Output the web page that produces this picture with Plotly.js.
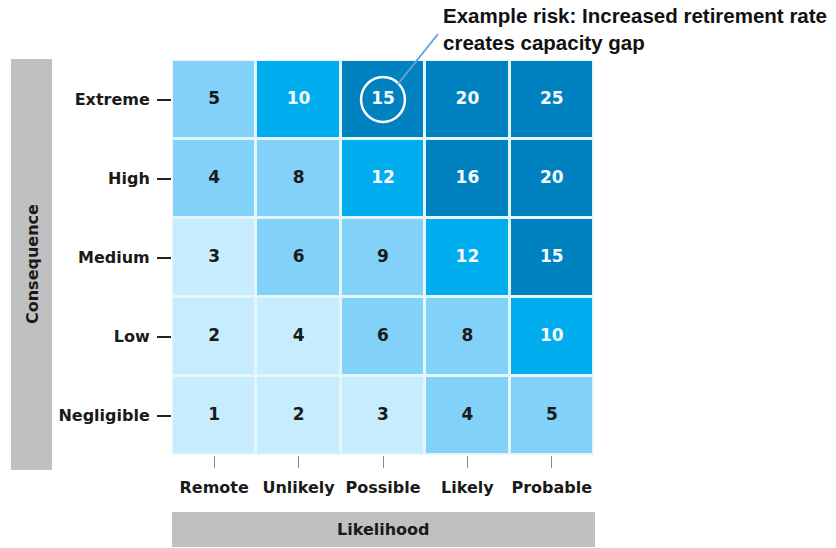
<!DOCTYPE html>
<html>
<head>
<meta charset="utf-8">
<script src="https://cdn.plot.ly/plotly-3.0.1.min.js"></script>
<style>html,body{margin:0;padding:0;background:#fff;}#chart{width:836px;height:548px;}</style>
</head>
<body>
<div id="chart"></div>
<script>
// ---- data ----
const likelihood = ['Remote', 'Unlikely', 'Possible', 'Likely', 'Probable'];
const consequence = ['Extreme', 'High', 'Medium', 'Low', 'Negligible']; // top to bottom
const riskScore = [
  [5, 10, 15, 20, 25],
  [4, 8, 12, 16, 20],
  [3, 6, 9, 12, 15],
  [2, 4, 6, 8, 10],
  [1, 2, 3, 4, 5]
];
// colour band of each cell (0 = lightest ... 3 = darkest)
const riskLevel = [
  [1, 2, 3, 3, 3],
  [1, 1, 2, 3, 3],
  [0, 1, 1, 2, 3],
  [0, 0, 1, 1, 2],
  [0, 0, 0, 1, 1]
];
const exampleRisk = {likelihood: 'Possible', consequence: 'Extreme',
  text: 'Example risk: Increased retirement rate<br>creates capacity gap'};
const xTitle = 'Likelihood';
const yTitle = 'Consequence';

// ---- styles ----
const bandColors = ['#c6ecfd', '#82d1f8', '#00adef', '#0082c0'];
const FONT = 'DejaVu Sans, Liberation Sans, sans-serif';

const heat = {
  type: 'heatmap',
  x: likelihood, y: consequence, z: riskLevel,
  zmin: 0, zmax: 3,
  colorscale: bandColors.map((c, i) => [i / (bandColors.length - 1), c]),
  showscale: false, xgap: 3, ygap: 3, hoverinfo: 'skip'
};

const tx = [], ty = [], tt = [], tc = [];
consequence.forEach((c, r) => likelihood.forEach((l, k) => {
  tx.push(l); ty.push(c); tt.push(String(riskScore[r][k]));
  tc.push(riskLevel[r][k] >= 2 ? '#f4faff' : '#1a1a1a');
}));
const labels = {
  type: 'scatter', mode: 'text', x: tx, y: ty, text: tt,
  textfont: {family: FONT, size: 17, color: tc, weight: 'bold'},
  hoverinfo: 'skip', showlegend: false
};

const cx = likelihood.indexOf(exampleRisk.likelihood);
const cy = consequence.indexOf(exampleRisk.consequence);

// plot area in px: x 172-594, y 60-455
const W = 422, H = 395, L = 172, T = 60;
const px = v => (v - L) / W;
const py = v => (T + H - v) / H;

const layout = {
  width: 836, height: 548,
  margin: {l: 172, r: 242, t: 60, b: 93, pad: 0},
  paper_bgcolor: '#ffffff', plot_bgcolor: '#e4f5fc',
  showlegend: false,
  font: {family: FONT, color: '#1a1a1a'},
  xaxis: {
    type: 'category', categoryorder: 'array', categoryarray: likelihood,
    range: [-0.5, 4.5], fixedrange: true, showgrid: false, zeroline: false, showline: false,
    ticks: 'outside', ticklen: 12, tickwidth: 1, tickcolor: '#8a8a8a',
    ticklabelstandoff: 6,
    tickfont: {family: FONT, size: 16, color: '#1a1a1a', weight: 'bold'}
  },
  yaxis: {
    type: 'category', categoryorder: 'array', categoryarray: consequence,
    range: [4.5, -0.5], fixedrange: true, showgrid: false, zeroline: false, showline: false,
    ticks: 'outside', ticklen: 14, tickwidth: 2, tickcolor: '#222222',
    ticklabelstandoff: 4,
    tickfont: {family: FONT, size: 16, color: '#1a1a1a', weight: 'bold'}
  },
  shapes: [
    {type: 'rect', xref: 'paper', yref: 'paper', x0: px(11), x1: px(52), y0: py(470), y1: py(59),
     fillcolor: '#c0c0c0', line: {width: 0}, layer: 'below'},
    {type: 'rect', xref: 'paper', yref: 'paper', x0: px(172), x1: px(595), y0: py(547), y1: py(512),
     fillcolor: '#c0c0c0', line: {width: 0}, layer: 'below'},
    {type: 'circle', xref: 'x', yref: 'y', x0: cx - 0.26, x1: cx + 0.26, y0: cy - 0.285, y1: cy + 0.285,
     line: {color: '#ffffff', width: 2.5}, fillcolor: 'rgba(0,0,0,0)'},
    {type: 'line', xref: 'paper', yref: 'paper', x0: px(398), y0: py(84), x1: px(438), y1: py(34),
     line: {color: '#6a9fd8', width: 2}}
  ],
  annotations: [
    {text: exampleRisk.text, xref: 'paper', yref: 'paper', x: px(441), y: py(2),
     xanchor: 'left', yanchor: 'top', align: 'left', showarrow: false,
     font: {family: 'Liberation Sans, Arial, sans-serif', size: 20.5, color: '#111111', weight: 'bold'}},
    {text: yTitle, xref: 'paper', yref: 'paper', x: px(32), y: py(264), textangle: -90,
     xanchor: 'center', yanchor: 'middle', showarrow: false,
     font: {family: FONT, size: 16, color: '#1a1a1a', weight: 'bold'}},
    {text: xTitle, xref: 'paper', yref: 'paper', x: px(383), y: py(529),
     xanchor: 'center', yanchor: 'middle', showarrow: false,
     font: {family: FONT, size: 16, color: '#1a1a1a', weight: 'bold'}}
  ]
};

Plotly.newPlot('chart', [heat, labels], layout, {displayModeBar: false, staticPlot: true});
</script>
</body>
</html>
